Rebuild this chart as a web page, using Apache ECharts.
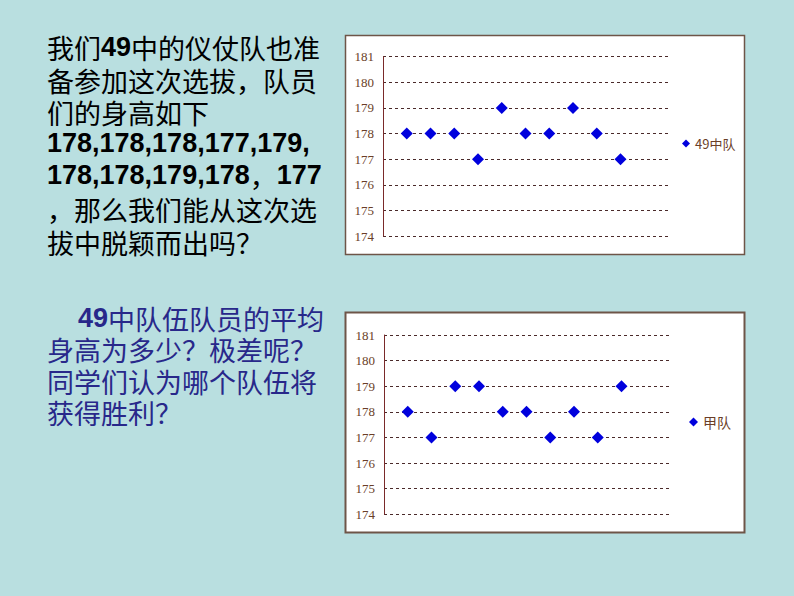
<!DOCTYPE html>
<html>
<head>
<meta charset="utf-8">
<script src="https://cdn.jsdelivr.net/npm/echarts@6/dist/echarts.min.js"></script>
<style>
html,body{margin:0;padding:0;background:#b9dfe0;}
#chart{width:794px;height:596px;}
</style>
</head>
<body>
<div id="chart"></div>
<script>
// Data
var members = [1, 2, 3, 4, 5, 6, 7, 8, 9, 10];
var team49 = [178, 178, 178, 177, 179, 178, 178, 179, 178, 177];
var teamJia = [178, 177, 179, 179, 178, 178, 177, 178, 177, 179];
var seriesNames = ['49中队', '甲队'];
var yTicks = [174, 175, 176, 177, 178, 179, 180, 181];

var cjk = '"Noto Sans CJK SC", sans-serif';
var num = '"Liberation Sans", Arial, sans-serif';

function pairs(vals){ return vals.map(function(v,i){ return [members[i], v]; }); }

var labelColor = '#6a3e28';
function yAxis(gi){
  return {
    type:'value', gridIndex:gi, min:yTicks[0], max:yTicks[yTicks.length-1], interval:1,
    axisLine:{show:true, lineStyle:{color:'#7a2a2a', width:1}},
    axisTick:{show:false},
    axisLabel:{color:labelColor, fontFamily:'"Liberation Serif", serif', fontSize:13, margin:9},
    splitLine:{show:true, lineStyle:{color:'#4a2a2a', type:[3,3], width:1}}
  };
}
function xAxis(gi){
  return {type:'value', gridIndex:gi, min:0, max:12, show:false, splitLine:{show:false}};
}

var blue = '#28288a';
var FS = 27;
function seg(x, yc, str, bold, color){
  return {type:'text', x:x, y:yc, z:5, silent:true,
    style:{text:str, fill:color,
      font:(bold ? 'bold ' : '') + FS + 'px ' + (bold ? num : cjk),
      verticalAlign:'middle', align:'left'}};
}
var dW = 0.556 * FS, cW = 0.278 * FS; // bold digit / comma widths

var chart = echarts.init(document.getElementById('chart'), null, {renderer:'svg'});
chart.setOption({
  backgroundColor:'#b9dfe0',
  animation:false,
  grid:[
    {left:383, top:56.7, width:285, height:179.3},
    {left:384, top:335, width:285, height:179.3}
  ],
  xAxis:[xAxis(0), xAxis(1)],
  yAxis:[yAxis(0), yAxis(1)],
  legend:[
    {data:[seriesNames[0]], left:677, top:132, orient:'vertical', icon:'diamond', itemWidth:8, itemHeight:8,
     textStyle:{color:labelColor, fontSize:13, fontFamily:cjk}},
    {data:[seriesNames[1]], left:684, top:410, orient:'vertical', icon:'diamond', itemWidth:9, itemHeight:9,
     textStyle:{color:labelColor, fontSize:14, fontFamily:cjk}}
  ],
  series:[
    {name:seriesNames[0], type:'scatter', xAxisIndex:0, yAxisIndex:0, symbol:'diamond', symbolSize:12,
     itemStyle:{color:'#0000dd', opacity:1}, data:pairs(team49)},
    {name:seriesNames[1], type:'scatter', xAxisIndex:1, yAxisIndex:1, symbol:'diamond', symbolSize:12,
     itemStyle:{color:'#0000dd', opacity:1}, data:pairs(teamJia)}
  ],
  graphic:[
    {type:'rect', z:-10, shape:{x:345.5, y:35.5, width:399, height:219}, style:{fill:'#ffffff', stroke:'#6e5548', lineWidth:1.5}},
    {type:'rect', z:-10, shape:{x:345.5, y:312.5, width:399, height:220}, style:{fill:'#ffffff', stroke:'#6e5548', lineWidth:2}},
    seg(47, 47, '我们', false, '#000'),
    seg(47 + 2*FS, 47, '49', true, '#000'),
    seg(47 + 2*FS + 2*dW, 47, '中的仪仗队也准', false, '#000'),
    seg(47, 80, '备参加这次选拔，队员', false, '#000'),
    seg(47, 112, '们的身高如下', false, '#000'),
    seg(47, 143, '178,178,178,177,179,', true, '#000'),
    seg(47, 175, '178,178,179,178', true, '#000'),
    seg(47 + 12*dW + 3*cW, 175, '，', false, '#000'),
    seg(47 + 12*dW + 3*cW + FS, 175, '177', true, '#000'),
    seg(47, 209, '，那么我们能从这次选', false, '#000'),
    seg(47, 242, '拔中脱颖而出吗？', false, '#000'),
    seg(78, 318, '49', true, blue),
    seg(78 + 2*dW, 318, '中队伍队员的平均', false, blue),
    seg(47, 349, '身高为多少？极差呢？', false, blue),
    seg(47, 381, '同学们认为哪个队伍将', false, blue),
    seg(47, 412, '获得胜利？', false, blue)
  ]
});
</script>
</body>
</html>
